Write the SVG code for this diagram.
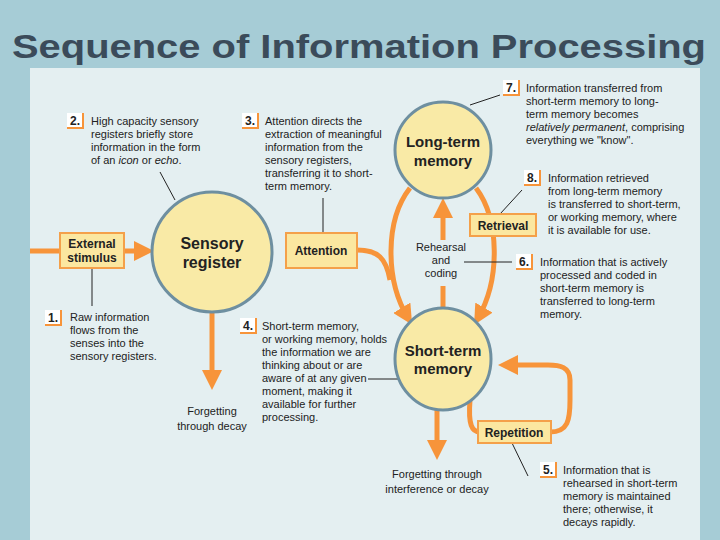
<svg xmlns="http://www.w3.org/2000/svg" width="720" height="540" viewBox="0 0 720 540">
<style>
.t{font-family:"Liberation Sans",Arial,sans-serif;font-size:11px;fill:#222}
.b{font-family:"Liberation Sans",Arial,sans-serif;font-weight:bold;fill:#222;text-anchor:middle}
.c{fill:#f9eaa6;stroke:#6e8fa0;stroke-width:3}
.box{fill:#fbe7a0;stroke:#f4a04a;stroke-width:2}
.o{fill:none;stroke:#f7943a;stroke-width:5}
.l{stroke:#222;stroke-width:1;fill:none}
.n{fill:#fff;stroke:none}
.nb{fill:none;stroke:#f7943a;stroke-width:2}
.m{font-family:"Liberation Sans",Arial,sans-serif;font-size:12px;font-weight:bold;fill:#222}
</style>
<defs>
<marker id="ah" viewBox="0 0 10 10" refX="6" refY="5" markerWidth="4" markerHeight="4" orient="auto"><path d="M0,0 L10,5 L0,10 z" fill="#f7943a"/></marker>
</defs>
<rect width="720" height="540" fill="#a6ccd6"/>
<rect x="30" y="68" width="670" height="472" fill="#e4eff1"/>
<text x="12" y="58" textLength="694" lengthAdjust="spacingAndGlyphs" style="font-family:'Liberation Sans',Arial,sans-serif;font-size:34px;font-weight:bold;fill:#3b4b5a">Sequence of Information Processing</text>
<g id="connectors">
<path class="o" d="M30,251 H146" marker-end="url(#ah)"/>
<path class="o" d="M357,250 C378,250 386,258 390,280"/>
<path class="o" d="M410,188 C385,220 385,280 408,318" marker-end="url(#ah)"/>
<path class="o" d="M476,188 C500,220 500,280 478,318" marker-end="url(#ah)"/>
<path class="o" d="M443,310 V286"/>
<path class="o" d="M443,240 V206" marker-end="url(#ah)"/>
<path class="o" d="M212,312 V382" marker-end="url(#ah)"/>
<path class="o" d="M437,408 V452" marker-end="url(#ah)"/>
<path class="o" d="M470,400 C468,425 472,432 480,432"/>
<path class="o" d="M550,432 C568,432 570,420 570,400 V380 C570,367 560,365 548,365 H506" marker-end="url(#ah)"/>
<path class="l" d="M160,172 L175,200 M323,198 V233 M92,268 V306 M368,379 H398 M470,105 L500,95 M500,214 L522,190 M464,262 H512 M512,443 L528,476"/>
</g>
<g id="sensory"><circle class="c" cx="212" cy="252" r="60"/><text class="b" x="212" y="249" font-size="16">Sensory</text><text class="b" x="212" y="268" font-size="16">register</text></g>
<g id="ltm"><circle class="c" cx="443" cy="150" r="48"/><text class="b" x="443" y="147" font-size="15">Long-term</text><text class="b" x="443" y="166" font-size="15">memory</text></g>
<g id="stm"><ellipse class="c" cx="443" cy="359" rx="48" ry="51"/><text class="b" x="443" y="356" font-size="15">Short-term</text><text class="b" x="443" y="374" font-size="15">memory</text></g>
<g id="external"><rect class="box" x="60" y="233" width="64" height="35"/><text class="b" x="92" y="248" font-size="12">External</text><text class="b" x="92" y="262" font-size="12">stimulus</text></g>
<g id="attention"><rect class="box" x="286" y="233" width="71" height="35"/><text class="b" x="321" y="255" font-size="12">Attention</text></g>
<g id="retrieval"><rect class="box" x="470" y="214" width="66" height="22"/><text class="b" x="503" y="230" font-size="12">Retrieval</text></g>
<g id="repetition"><rect class="box" x="478" y="421" width="73" height="22"/><text class="b" x="514" y="437" font-size="12">Repetition</text></g>
<g id="rehearsal"><text class="t" x="441" y="251" text-anchor="middle">Rehearsal</text><text class="t" x="441" y="264" text-anchor="middle">and</text><text class="t" x="441" y="277" text-anchor="middle">coding</text></g>
<g id="forget1"><text class="t" x="212" y="415" text-anchor="middle" font-size="12">Forgetting</text><text class="t" x="212" y="430" text-anchor="middle" font-size="12">through decay</text></g>
<g id="forget2"><text class="t" x="437" y="478" text-anchor="middle" font-size="12">Forgetting through</text><text class="t" x="437" y="493" text-anchor="middle" font-size="12">interference or decay</text></g>
<g id="n1"><rect class="n" x="45" y="310" width="16" height="15"/><path class="nb" d="M45,325 H61 V310"/><text class="m" x="48" y="322">1.</text>
<text class="t"><tspan x="70" y="321">Raw information</tspan><tspan x="70" y="334">flows from the</tspan><tspan x="70" y="347">senses into the</tspan><tspan x="70" y="360">sensory registers.</tspan></text></g>
<g id="n2"><rect class="n" x="67" y="113" width="16" height="15"/><path class="nb" d="M67,128 H83 V113"/><text class="m" x="70" y="125">2.</text>
<text class="t"><tspan x="91" y="125">High capacity sensory</tspan><tspan x="91" y="138">registers briefly store</tspan><tspan x="91" y="151">information in the form</tspan><tspan x="91" y="164">of an <tspan font-style="italic">icon</tspan> or <tspan font-style="italic">echo</tspan>.</tspan></text></g>
<g id="n3"><rect class="n" x="242" y="113" width="16" height="15"/><path class="nb" d="M242,128 H258 V113"/><text class="m" x="245" y="125">3.</text>
<text class="t"><tspan x="265" y="125">Attention directs the</tspan><tspan x="265" y="138">extraction of meaningful</tspan><tspan x="265" y="151">information from the</tspan><tspan x="265" y="164">sensory registers,</tspan><tspan x="265" y="177">transferring it to short-</tspan><tspan x="265" y="190">term memory.</tspan></text></g>
<g id="n4"><rect class="n" x="240" y="318" width="16" height="15"/><path class="nb" d="M240,333 H256 V318"/><text class="m" x="243" y="330">4.</text>
<text class="t"><tspan x="262" y="330">Short-term memory,</tspan><tspan x="262" y="343">or working memory, holds</tspan><tspan x="262" y="356">the information we are</tspan><tspan x="262" y="369">thinking about or are</tspan><tspan x="262" y="382">aware of at any given</tspan><tspan x="262" y="395">moment, making it</tspan><tspan x="262" y="408">available for further</tspan><tspan x="262" y="421">processing.</tspan></text></g>
<g id="n5"><rect class="n" x="540" y="462" width="16" height="15"/><path class="nb" d="M540,477 H556 V462"/><text class="m" x="543" y="474">5.</text>
<text class="t"><tspan x="563" y="474">Information that is</tspan><tspan x="563" y="487">rehearsed in short-term</tspan><tspan x="563" y="500">memory is maintained</tspan><tspan x="563" y="513">there; otherwise, it</tspan><tspan x="563" y="526">decays rapidly.</tspan></text></g>
<g id="n6"><rect class="n" x="516" y="254" width="16" height="15"/><path class="nb" d="M516,269 H532 V254"/><text class="m" x="519" y="266">6.</text>
<text class="t"><tspan x="540" y="266">Information that is actively</tspan><tspan x="540" y="279">processed and coded in</tspan><tspan x="540" y="292">short-term memory is</tspan><tspan x="540" y="305">transferred to long-term</tspan><tspan x="540" y="318">memory.</tspan></text></g>
<g id="n7"><rect class="n" x="503" y="80" width="16" height="15"/><path class="nb" d="M503,95 H519 V80"/><text class="m" x="506" y="92">7.</text>
<text class="t"><tspan x="526" y="92">Information transferred from</tspan><tspan x="526" y="105">short-term memory to long-</tspan><tspan x="526" y="118">term memory becomes</tspan><tspan x="526" y="131"><tspan font-style="italic">relatively permanent</tspan>, comprising</tspan><tspan x="526" y="144">everything we "know".</tspan></text></g>
<g id="n8"><rect class="n" x="524" y="170" width="16" height="15"/><path class="nb" d="M524,185 H540 V170"/><text class="m" x="527" y="182">8.</text>
<text class="t"><tspan x="548" y="182">Information retrieved</tspan><tspan x="548" y="195">from long-term memory</tspan><tspan x="548" y="208">is transferred to short-term,</tspan><tspan x="548" y="221">or working memory, where</tspan><tspan x="548" y="234">it is available for use.</tspan></text></g>
</svg>
